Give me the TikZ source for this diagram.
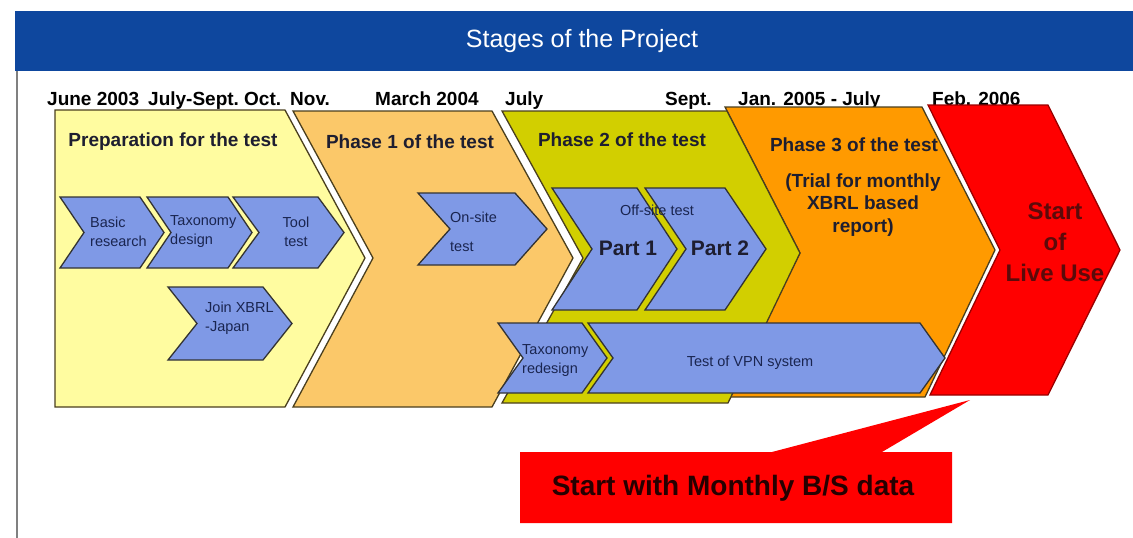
\documentclass[tikz,border=0pt]{standalone}
\usepackage{fontspec}
\setmainfont{Liberation Sans}
\usepackage{tikz}
\usetikzlibrary{positioning,calc}
\definecolor{hdrblue}{HTML}{0E479E}
\definecolor{prepyellow}{HTML}{FFFCA0}
\definecolor{phaseone}{HTML}{FBC869}
\definecolor{phasetwo}{HTML}{D2CF00}
\definecolor{phasethree}{HTML}{FF9A00}
\definecolor{livered}{HTML}{FF0000}
\definecolor{chevblue}{HTML}{7F99E6}
\definecolor{paneline}{HTML}{4A3F1E}
\definecolor{txtdark}{HTML}{1E1E30}
\definecolor{chevtxt}{HTML}{1A2550}
\definecolor{maroon}{HTML}{5C0A0A}
\tikzstyle{pane}=[draw=paneline,line width=1.3pt,line join=miter]
\tikzstyle{chev}=[fill=chevblue,draw=black!80,line width=1.3pt]
% x1, x2, top, bottom, depth of the point
\newcommand{\bluechev}[5]{%
  \filldraw[chev] (#1,#3) -- (#2,#3) -- ({#2+#5},{(#3+#4)/2}) -- (#2,#4)
    -- (#1,#4) -- ({#1+#5},{(#3+#4)/2}) -- cycle;}

\begin{document}
\begin{tikzpicture}[x=1pt,y=-1pt]
    \useasboundingbox (0,0) rectangle (1133,538);
    \tikzstyle{datelbl}=[anchor=base west,inner sep=0pt,text=black,
      font={\fontsize{19}{22}\selectfont\bfseries}]
    \tikzstyle{head}=[inner sep=0pt,text=txtdark,align=center,
      font={\fontsize{19}{22.5}\selectfont\bfseries}]
    \tikzstyle{ctxt}=[inner sep=0pt,text=chevtxt,
      font={\fontsize{14.5}{19}\selectfont}]
    \tikzstyle{part}=[inner sep=0pt,text=txtdark,
      font={\fontsize{21}{24}\selectfont\bfseries}]
    % header
    \fill[hdrblue] (15,11) rectangle (1133,71);
    \node[text=white,font={\fontsize{25}{28}\selectfont}] (title) at (582,41)
      {Stages of the Project};
    \draw[gray,line width=2pt] (16.5,71) -- (16.5,538);
    % dates
    \node[datelbl] (d1) at (47,105) {June 2003};
    \node[datelbl] (d2) at (148,105) {July-Sept.};
    \node[datelbl] (d3) at (244,105) {Oct.};
    \node[datelbl] (d4) at (290,105) {Nov.};
    \node[datelbl] (d5) at (375,105) {March 2004};
    \node[datelbl] (d6) at (505,105) {July};
    \node[datelbl] (d7) at (665,105) {Sept.};
    \node[datelbl] (d8) at (738,105) {Jan. 2005 - July};
    \node[datelbl] (d9) at (932,105) {Feb. 2006};
    % stages
    \filldraw[pane,fill=prepyellow] (55,110) -- (285,110) -- (365,258)
      -- (285,407) -- (55,407) -- cycle;
    \filldraw[pane,fill=phaseone] (293,111) -- (492,111) -- (573,258)
      -- (492,407) -- (293,407) -- (373,258) -- cycle;
    \filldraw[pane,fill=phasethree] (725,107) -- (922,107) -- (995,250)
      -- (925,397) -- (728,397) -- (800,253) -- cycle;
    \filldraw[pane,fill=phasetwo] (502,111) -- (727,111) -- (800,253)
      -- (728,403) -- (502,403) -- (583,258) -- cycle;
    \filldraw[pane,draw=red!60!black,fill=livered] (928,105) -- (1048,105)
      -- (1120,250) -- (1048,395) -- (930,395) -- (1000,250) -- cycle;
    \node[head] (prep) at (173,142) {Preparation for the test};
    \node[head] (ph1) at (410,142) {Phase 1 of the test};
    \node[head] (ph2) at (622,140) {Phase 2 of the test};
    \node[head] (ph3) at (854,145) {Phase 3 of the test};
    \node[head] (trial) at (863,205) {(Trial for monthly\\XBRL based\\report)};
    \node[inner sep=0pt,align=center,text=maroon,
      font={\fontsize{24}{31}\selectfont\bfseries}] (live) at (1055,242)
      {Start\\of\\Live Use};
    % tasks
    \bluechev{60}{140}{197}{268}{24}
    \bluechev{147}{228}{197}{268}{24}
    \bluechev{233}{318}{197}{268}{26}
    \bluechev{168}{263}{287}{360}{29}
    \bluechev{418}{515}{193}{265}{32}
    \bluechev{552}{637}{188}{310}{40}
    \bluechev{645}{725}{188}{310}{41}
    \bluechev{588}{920}{323}{393}{25}
    \bluechev{498}{582}{323}{393}{25}
    \node[ctxt,anchor=west,align=left] (basic) at (90,232) {Basic\\research};
    \node[ctxt,anchor=west,align=left] (taxo) at (170,232) {Taxonomy\\design};
    \node[ctxt,align=center] (tool) at (296,232) {Tool\\test};
    \node[ctxt,anchor=west,align=left] (join) at (205,318) {Join XBRL\\-Japan};
    \node[ctxt,anchor=west,align=left,
      font={\fontsize{14.5}{29}\selectfont}] (onsite) at (450,232) {On-site\\test};
    \node[ctxt] (offsite) at (657,210) {Off-site test};
    \node[part] (part1) at (628,248) {Part 1};
    \node[part] (part2) at (720,248) {Part 2};
    \node[ctxt,anchor=west,align=left] (redesign) at (522,361) {Taxonomy\\redesign};
    \node[ctxt] (vpn) at (750,363) {Test of VPN system};
    % callout
    \fill[livered] (520,452) -- (772,452) -- (970,400) -- (882,452)
      -- (952,452) -- (952,523) -- (520,523) -- cycle;
    \node[inner sep=0pt,text=black!85!red,
      font={\fontsize{28}{32}\selectfont\bfseries}] (monthly) at (733,488)
      {Start with Monthly B/S data};
\end{tikzpicture}
\end{document}
